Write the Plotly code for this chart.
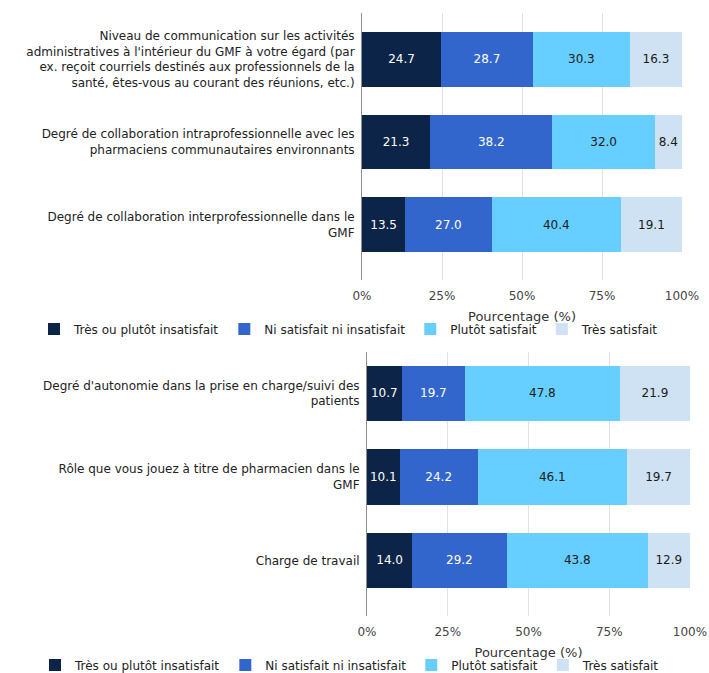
import plotly.graph_objects as go

series_names = ["Très ou plutôt insatisfait", "Ni satisfait ni insatisfait",
                "Plutôt satisfait", "Très satisfait"]
colors = ["#0b2447", "#3366cc", "#66cfff", "#cfe2f3"]
text_colors = ["#ffffff", "#ffffff", "#1a1a1a", "#1a1a1a"]

cats_top = [
    "Niveau de communication sur les activités<br>administratives à l'intérieur du GMF à votre égard (par<br>ex. reçoit courriels destinés aux professionnels de la<br>santé, êtes-vous au courant des réunions, etc.)",
    "Degré de collaboration intraprofessionnelle avec les<br>pharmaciens communautaires environnants",
    "Degré de collaboration interprofessionnelle dans le<br>GMF",
]
vals_top = [
    [24.7, 21.3, 13.5],
    [28.7, 38.2, 27.0],
    [30.3, 32.0, 40.4],
    [16.3, 8.4, 19.1],
]

cats_bot = [
    "Degré d'autonomie dans la prise en charge/suivi des<br>patients",
    "Rôle que vous jouez à titre de pharmacien dans le<br>GMF",
    "Charge de travail",
]
vals_bot = [
    [10.7, 10.1, 14.0],
    [19.7, 24.2, 29.2],
    [47.8, 46.1, 43.8],
    [21.9, 19.7, 12.9],
]

tick_vals = [0, 25, 50, 75, 100]
tick_text = ["0%", "25%", "50%", "75%", "100%"]
axis_title = "Pourcentage (%)"

W, H = 709, 673
FONT = "DejaVu Sans, Roboto, sans-serif"
FS = 12

fig = go.Figure()
for i, name in enumerate(series_names):
    fig.add_trace(go.Bar(
        x=vals_top[i], y=cats_top, orientation="h", name=name,
        marker=dict(color=colors[i], line=dict(width=0)),
        texttemplate="%{x:.1f}", textposition="inside", insidetextanchor="middle",
        textangle=0, insidetextfont=dict(color=text_colors[i], size=FS, family=FONT),
        xaxis="x", yaxis="y", legend="legend", width=0.66,
    ))
for i, name in enumerate(series_names):
    fig.add_trace(go.Bar(
        x=vals_bot[i], y=cats_bot, orientation="h", name=name,
        marker=dict(color=colors[i], line=dict(width=0)),
        texttemplate="%{x:.1f}", textposition="inside", insidetextanchor="middle",
        textangle=0, insidetextfont=dict(color=text_colors[i], size=FS, family=FONT),
        xaxis="x2", yaxis="y2", legend="legend2", width=0.66,
    ))

def px_x(p):
    return p / W

def px_y(p):
    return 1 - p / H

xcommon = dict(range=[0, 100], tickmode="array", tickvals=tick_vals, ticktext=tick_text,
               showgrid=True, gridcolor="#e2e2e2", gridwidth=1, zeroline=False,
               showline=False, ticks="", tickfont=dict(size=FS, color="#444", family=FONT),
               ticklabelstandoff=7,
               title=dict(text=axis_title, font=dict(size=FS + 1, color="#333", family=FONT), standoff=9),
               fixedrange=True)
ycommon = dict(showgrid=False, zeroline=False, showline=True, linecolor="#8f8f8f", linewidth=1,
               ticks="", tickfont=dict(size=FS, color="#222", family=FONT), type="category",
               ticklabelstandoff=4, fixedrange=True)

fig.update_layout(
    width=W, height=H,
    margin=dict(l=0, r=0, t=0, b=0, autoexpand=False),
    paper_bgcolor="white", plot_bgcolor="white",
    barmode="stack",
    font=dict(family=FONT, size=FS, color="#222"),
    uniformtext=dict(minsize=FS, mode="show"),
    xaxis=dict(domain=[px_x(362), px_x(682)], anchor="y", **xcommon),
    yaxis=dict(domain=[px_y(280), px_y(13)], anchor="x", range=[2.67, -0.563], **ycommon),
    xaxis2=dict(domain=[px_x(367), px_x(690)], anchor="y2", **xcommon),
    yaxis2=dict(domain=[px_y(616), px_y(352)], anchor="x2", range=[2.665, -0.497], **ycommon),
    legend=dict(orientation="h", x=px_x(349), xanchor="center", y=px_y(329), yanchor="middle",
                font=dict(size=FS, color="#222", family=FONT), traceorder="normal",
                itemwidth=30, bgcolor="rgba(0,0,0,0)"),
    legend2=dict(orientation="h", x=px_x(350), xanchor="center", y=px_y(665), yanchor="middle",
                 font=dict(size=FS, color="#222", family=FONT), traceorder="normal",
                 itemwidth=30, bgcolor="rgba(0,0,0,0)"),
    showlegend=True,
)

fig.write_html("out.html",
               config={"displayModeBar": False},
               post_script="document.body.style.margin='0';document.body.style.overflow='hidden';")
